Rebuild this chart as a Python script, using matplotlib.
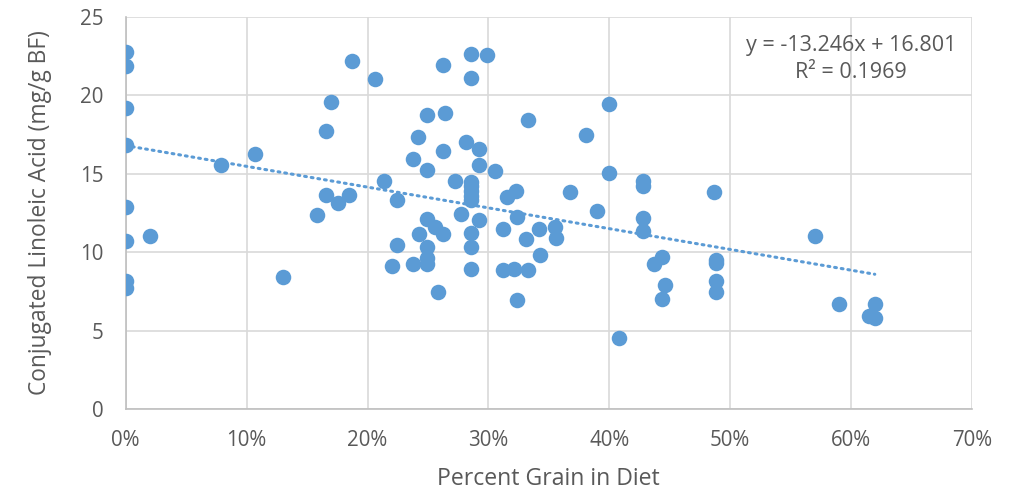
import numpy as np
import matplotlib
matplotlib.use("Agg")
import matplotlib.pyplot as plt
from matplotlib.ticker import PercentFormatter

# Percent grain in diet (fraction) and CLA (mg/g BF)
grain = [
    0.0, 0.0, 0.0, 0.0, 0.0, 0.0, 0.0, 0.0,
    0.020, 0.079, 0.107, 0.130,
    0.158, 0.166, 0.166, 0.170, 0.176, 0.185, 0.187,
    0.206, 0.214, 0.220, 0.224, 0.224,
    0.238, 0.238, 0.242, 0.243,
    0.2496, 0.2496, 0.2496, 0.2496, 0.2496, 0.2496,
    0.2555, 0.2587, 0.2625, 0.2625, 0.2625, 0.2642,
    0.2722, 0.2775, 0.2815,
    0.2854, 0.2854, 0.2854, 0.2854, 0.2854, 0.2854, 0.2854, 0.2854, 0.2854, 0.2854,
    0.2923, 0.2923, 0.2923, 0.2989, 0.3058,
    0.3121, 0.3121, 0.3151, 0.3210, 0.3228, 0.3237, 0.3240,
    0.3312, 0.3327, 0.3327, 0.3421, 0.3427, 0.3548, 0.3562,
    0.3679, 0.3810, 0.3896, 0.3994, 0.3994, 0.408,
    0.4278, 0.4278, 0.4278, 0.4278,
    0.4366, 0.4438, 0.4440, 0.4463,
    0.4862, 0.4881, 0.4881, 0.4881, 0.4881,
    0.5705, 0.5898, 0.6151, 0.6195, 0.6196,
]
cla = [
    22.75, 21.9, 19.18, 16.84, 12.9, 10.73, 8.16, 7.7,
    11.03, 15.56, 16.24, 8.44,
    12.37, 17.75, 13.63, 19.56, 13.16, 13.63, 22.17,
    21.03, 14.52, 9.14, 13.33, 10.44,
    15.94, 9.25, 17.35, 11.16,
    18.75, 15.24, 12.14, 10.35, 9.61, 9.23,
    11.59, 7.48, 21.96, 16.45, 11.14, 18.86,
    14.54, 12.44, 17.05,
    22.66, 21.13, 14.5, 14.2, 13.9, 13.6, 13.3, 11.25, 10.35, 8.93,
    16.56, 15.56, 12.05, 22.55, 15.18,
    11.48, 8.86, 13.54, 8.93, 13.92, 6.95, 12.27,
    10.84, 18.45, 8.86, 11.46, 9.84, 11.59, 10.89,
    13.86, 17.46, 12.65, 19.45, 15.03, 4.51,
    14.54, 14.24, 12.18, 11.35,
    9.25, 7.02, 9.71, 7.91,
    13.82, 9.5, 9.29, 8.14, 7.44,
    11.03, 6.7, 5.93, 5.78, 6.7,
]

slope, intercept, r2 = -13.246, 16.801, 0.1969

color = "#5B9BD5"
text_color = "#595959"
font = "Open Sans"


def main() -> None:
    plt.rcParams["font.family"] = [font, "DejaVu Sans"]
    fig = plt.figure(figsize=(10.13, 4.92), dpi=100)
    ax = fig.add_axes([0.1241, 0.1687, 0.8354, 0.7967])

    ax.scatter(grain, cla, s=125, color=color, zorder=3, linewidths=0)

    # linear trendline over the data range
    xs = np.array([0.0, max(grain)])
    ax.plot(xs, slope * xs + intercept, color=color, linewidth=2.2,
            linestyle=(0, (0.6, 1.6)), dash_capstyle="round", zorder=2)

    ax.set_xlim(0, 0.7)
    ax.set_ylim(0, 25)
    ax.set_xticks(np.arange(0, 0.71, 0.1))
    ax.set_yticks(np.arange(0, 26, 5))
    ax.xaxis.set_major_formatter(PercentFormatter(1.0, decimals=0))
    ax.grid(True, color="#D9D9D9", linewidth=1.2, zorder=0)
    ax.set_axisbelow(True)
    for side in ("top", "right"):
        ax.spines[side].set_visible(False)
    for side in ("left", "bottom"):
        ax.spines[side].set_color("#BFBFBF")
        ax.spines[side].set_linewidth(1.2)
    ax.tick_params(length=0, labelsize=14.8, labelcolor=text_color)
    ax.tick_params(axis="x", pad=15)
    ax.tick_params(axis="y", pad=16)

    ax.set_xlabel("Percent Grain in Diet", fontsize=16.6, color=text_color,
                  labelpad=12)
    ax.set_ylabel("Conjugated Linoleic Acid (mg/g BF)", fontsize=16.4,
                  color=text_color, labelpad=20)

    ax.text(0.600, 22.3, f"y = {slope}x + {intercept}\nR² = {r2}",
            ha="center", va="center", fontsize=15.5, color=text_color,
            linespacing=1.38)

    fig.savefig("out.png", dpi=100)


if __name__ == "__main__":
    main()
